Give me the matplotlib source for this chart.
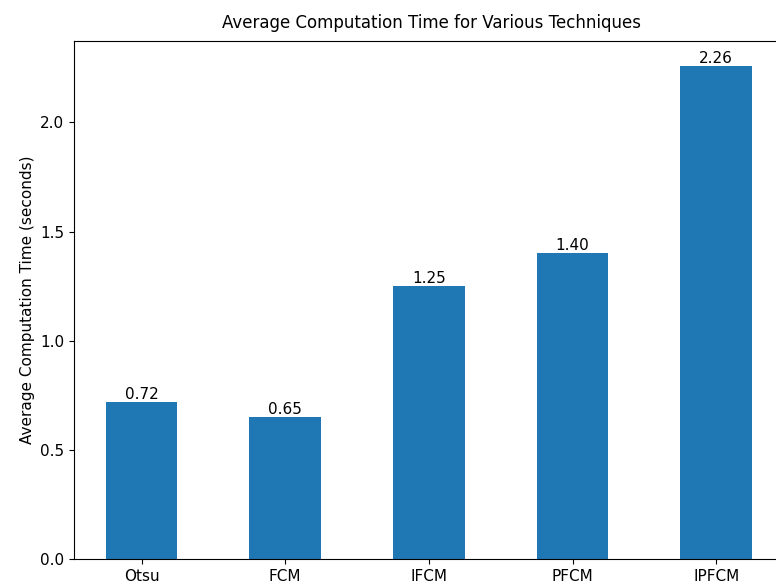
import matplotlib
matplotlib.use("Agg")
import matplotlib.pyplot as plt

techniques = ["Otsu", "FCM", "IFCM", "PFCM", "IPFCM"]
times = [0.72, 0.65, 1.25, 1.40, 2.26]

fig = plt.figure(figsize=(7.76, 5.88), dpi=100)
W, H = 776, 588
ax = fig.add_axes([74 / W, (H - 559) / H, (788 - 74) / W, (559 - 41) / H])
x = range(len(techniques))
ax.bar(x, times, width=0.5, color="#1f77b4")
ax.set_xlim(-0.47, len(techniques) - 0.5)
ax.set_xticks(list(x))
ax.set_xticklabels(techniques, fontsize=11)
ax.tick_params(axis="y", labelsize=11)
for xi, v in zip(x, times):
    ax.text(xi, v, f"{v:.2f}", ha="center", va="bottom", fontsize=11)
ax.set_ylabel("Average Computation Time (seconds)", fontsize=11)
ax.set_title("Average Computation Time for Various Techniques", fontsize=12, pad=9)
fig.savefig("out.png", dpi=100)
